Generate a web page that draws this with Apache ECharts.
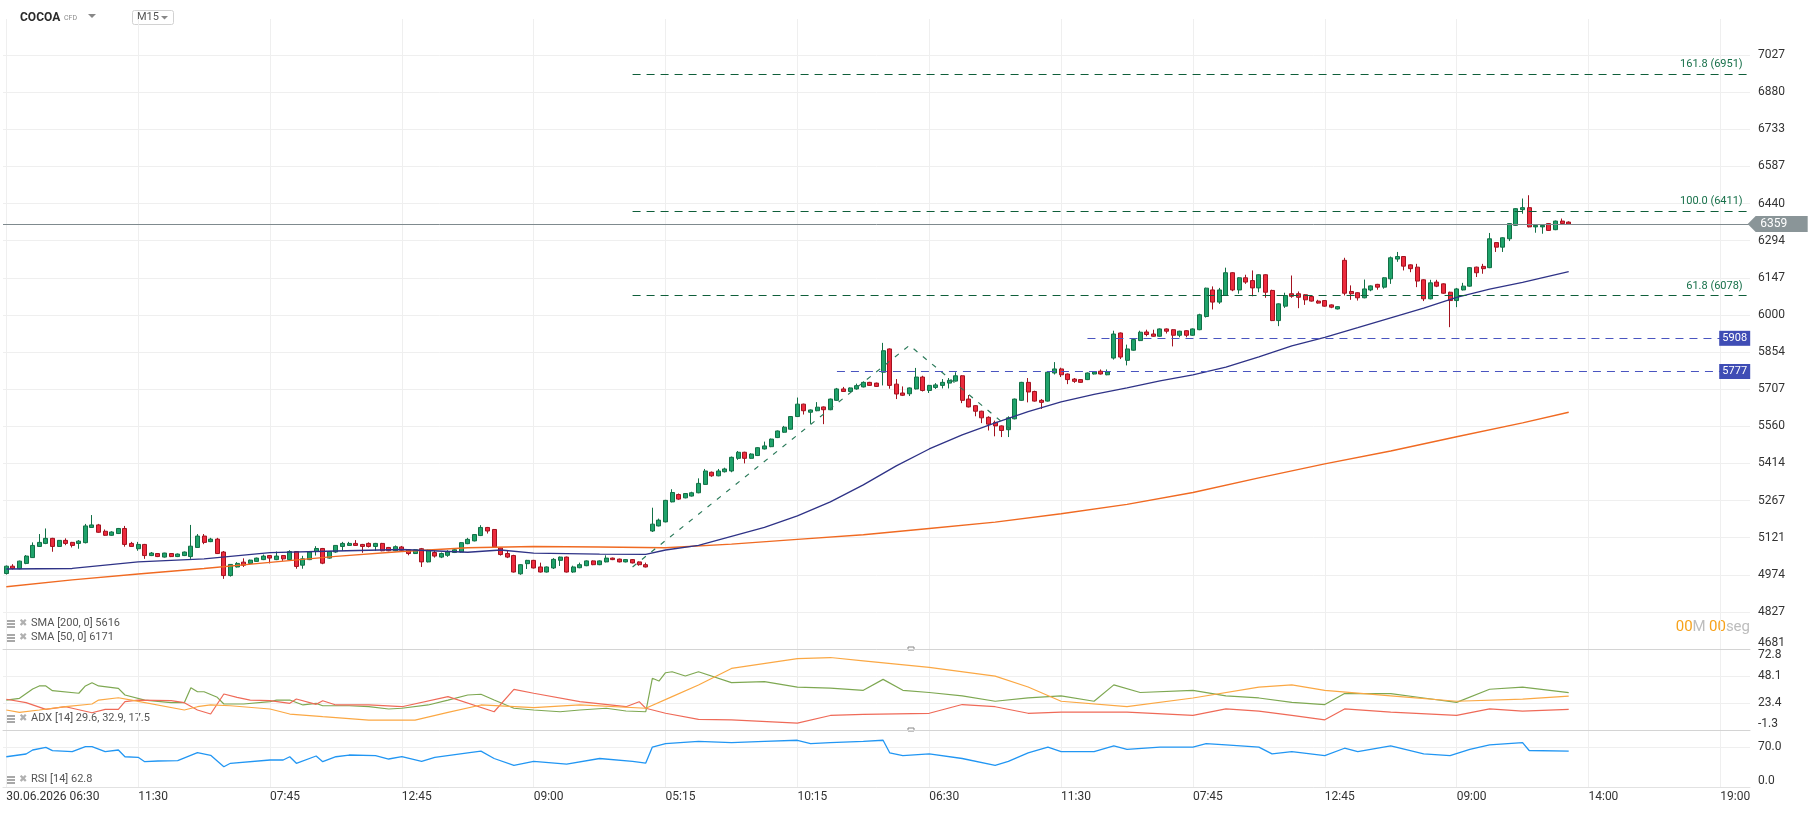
<!DOCTYPE html>
<html lang="es">
<head>
<meta charset="UTF-8">
<title>COCOA M15</title>
<script src="https://cdn.jsdelivr.net/npm/echarts@6/dist/echarts.min.js"></script>
<style>
  html, body { margin: 0; padding: 0; background: #fff; }
  #chart { width: 1818px; height: 813px; }
</style>
</head>
<body>
<div id="chart"></div>
<script>
// slots on the time axis (candles + empty space on the right)
var slotCount = 265;
// labels shown every 20 bars
var timeLabels = ['30.06.2026 06:30', '11:30', '07:45', '12:45', '09:00', '05:15', '10:15',
                  '06:30', '11:30', '07:45', '12:45', '09:00', '14:00', '19:00'];
var priceTicks = [4681, 4827, 4974, 5121, 5267, 5414, 5560, 5707, 5854, 6000,
                  6147, 6294, 6440, 6587, 6733, 6880, 7027];
var adxTicks = [-1.3, 23.4, 48.1, 72.8];
var rsiTicks = [0, 70];

// [open, high, low, close]
var candles = [
  [4979,5011,4975,5008],[5008,5016,4995,4999],[4998,5030,4996,5028],[5019,5052,5016,5048],
  [5042,5102,5041,5090],[5086,5135,5084,5102],[5098,5157,5095,5118],[5118,5120,5065,5086],
  [5086,5111,5084,5110],[5110,5118,5091,5098],[5102,5104,5082,5090],[5098,5111,5077,5107],
  [5101,5175,5098,5167],[5161,5210,5159,5171],[5171,5175,5140,5142],[5146,5153,5128,5130],
  [5130,5146,5128,5143],[5137,5159,5135,5157],[5157,5167,5085,5094],[5098,5104,5084,5086],
  [5077,5104,5069,5094],[5094,5096,5037,5050],[5050,5064,5048,5060],[5058,5060,5044,5046],
  [5044,5061,5042,5060],[5058,5060,5044,5046],[5046,5058,5044,5056],[5050,5066,5048,5064],
  [5046,5171,5037,5087],[5082,5135,5080,5127],[5127,5135,5095,5102],[5105,5120,5103,5115],
  [5115,5120,5056,5058],[5064,5068,4958,4971],[4971,5016,4967,5015],[5005,5024,5003,5019],
  [5024,5039,5005,5012],[5019,5034,5016,5032],[5027,5042,5025,5040],[5034,5054,5032,5048],
  [5050,5052,5019,5040],[5034,5066,5032,5048],[5050,5052,5029,5037],[5034,5071,5032,5066],
  [5066,5068,4998,5007],[5012,5049,4998,5037],[5034,5066,5032,5064],[5066,5087,5050,5078],
  [5078,5080,5016,5020],[5040,5066,5038,5066],[5064,5090,5061,5090],[5086,5104,5069,5098],
  [5090,5104,5088,5098],[5098,5111,5088,5090],[5094,5096,5061,5086],[5098,5102,5082,5086],
  [5086,5100,5069,5098],[5098,5100,5067,5069],[5082,5084,5067,5069],[5069,5090,5067,5085],
  [5084,5088,5069,5071],[5073,5075,5051,5058],[5058,5075,5056,5073],[5077,5080,5005,5025],
  [5025,5073,5023,5071],[5062,5071,5042,5048],[5044,5062,5040,5058],[5051,5071,5045,5064],
  [5062,5077,5060,5073],[5064,5103,5062,5101],[5097,5120,5095,5114],[5108,5135,5106,5133],
  [5129,5170,5127,5161],[5161,5163,5137,5147],[5153,5155,5080,5084],[5080,5082,5050,5054],
  [5058,5071,5040,5044],[5050,5053,4983,4985],[4978,5016,4974,5014],[5018,5033,4997,5031],
  [5031,5033,4999,5001],[5005,5022,4983,4985],[4985,5007,4983,5005],[5001,5040,4997,5035],
  [5031,5046,5009,5044],[5044,5046,4983,4985],[4985,5010,4982,5005],[5002,5022,5000,5014],
  [5010,5031,5008,5029],[5029,5031,5012,5014],[5014,5031,5012,5029],[5025,5051,5023,5040],
  [5040,5042,5032,5034],[5036,5038,5023,5025],[5025,5036,5023,5034],[5034,5036,5019,5021],
  [5025,5027,5010,5014],[5014,5022,5003,5005],[5147,5239,5143,5174],[5167,5196,5165,5190],
  [5183,5270,5181,5268],[5262,5312,5260,5299],[5291,5295,5270,5273],[5278,5297,5276,5295],
  [5285,5302,5283,5298],[5298,5355,5296,5335],[5331,5392,5329,5384],[5379,5382,5361,5365],
  [5365,5392,5363,5384],[5381,5397,5378,5392],[5384,5441,5379,5438],[5434,5463,5428,5458],
  [5458,5460,5414,5434],[5434,5454,5432,5451],[5445,5478,5443,5476],[5471,5500,5469,5483],
  [5480,5512,5478,5510],[5516,5544,5514,5542],[5537,5562,5535,5557],[5549,5601,5547,5599],
  [5599,5674,5597,5648],[5648,5650,5607,5622],[5616,5627,5570,5625],[5622,5656,5620,5636],
  [5637,5639,5569,5626],[5626,5670,5624,5668],[5663,5712,5661,5708],[5708,5716,5696,5698],
  [5698,5714,5696,5712],[5708,5729,5705,5721],[5716,5738,5714,5734],[5734,5736,5720,5722],
  [5731,5733,5716,5718],[5774,5890,5722,5859],[5866,5868,5709,5722],[5727,5747,5668,5688],
  [5692,5718,5680,5683],[5689,5714,5680,5712],[5708,5791,5706,5755],[5755,5760,5698,5702],
  [5702,5724,5692,5722],[5714,5731,5708,5724],[5722,5747,5710,5734],[5731,5751,5710,5742],
  [5739,5774,5737,5760],[5760,5762,5652,5663],[5668,5684,5635,5637],[5642,5644,5600,5620],
  [5620,5622,5573,5594],[5596,5600,5544,5569],[5576,5583,5521,5562],[5562,5564,5518,5544],
  [5547,5600,5518,5594],[5590,5670,5588,5668],[5663,5736,5661,5734],[5734,5751,5655,5696],
  [5698,5701,5658,5660],[5663,5668,5629,5655],[5660,5776,5658,5774],[5771,5814,5765,5787],
  [5787,5792,5755,5764],[5767,5769,5727,5745],[5747,5751,5732,5738],[5745,5747,5732,5734],
  [5745,5773,5743,5771],[5767,5777,5765,5775],[5778,5785,5765,5767],[5764,5785,5762,5775],
  [5830,5938,5824,5925],[5929,5931,5826,5834],[5821,5883,5801,5866],[5861,5905,5859,5903],
  [5899,5938,5897,5932],[5933,5942,5916,5923],[5925,5942,5914,5916],[5916,5947,5914,5945],
  [5945,5947,5927,5936],[5942,5944,5876,5920],[5920,5938,5912,5936],[5938,5940,5912,5920],
  [5920,5947,5918,5945],[5942,6005,5940,6001],[5994,6108,5990,6106],[6099,6113,6022,6051],
  [6051,6107,6044,6099],[6077,6187,6075,6167],[6167,6169,6094,6099],[6099,6149,6084,6147],
  [6147,6159,6123,6130],[6136,6176,6074,6107],[6107,6161,6090,6159],[6159,6161,6068,6090],
  [6097,6100,5976,5978],[5978,6046,5956,6044],[6035,6088,6028,6077],[6084,6156,6068,6074],
  [6084,6093,6027,6070],[6080,6082,6040,6060],[6073,6075,6053,6055],[6055,6060,6045,6047],
  [6057,6059,6033,6035],[6040,6042,6027,6031],[6024,6035,6022,6033],[6216,6226,6077,6086],
  [6093,6117,6060,6084],[6088,6090,6057,6068],[6068,6140,6066,6103],[6099,6117,6094,6115],
  [6121,6123,6100,6110],[6110,6149,6104,6147],[6143,6231,6123,6226],[6221,6249,6210,6231],
  [6231,6233,6176,6193],[6198,6200,6169,6183],[6189,6202,6110,6134],[6139,6141,6055,6064],
  [6064,6139,6062,6127],[6130,6139,6110,6114],[6123,6125,6084,6086],[6090,6092,5952,6057],
  [6057,6107,6031,6103],[6099,6127,6097,6114],[6114,6189,6112,6187],[6189,6191,6150,6167],
  [6192,6202,6163,6183],[6187,6324,6185,6301],[6286,6288,6249,6268],[6268,6307,6249,6305],
  [6301,6363,6292,6361],[6354,6422,6352,6420],[6416,6460,6400,6424],[6424,6473,6346,6348],
  [6348,6356,6325,6354],[6348,6356,6321,6354],[6361,6363,6332,6334],[6337,6373,6335,6371],
  [6371,6381,6359,6361],[6367,6370,6357,6359]
];

// moving averages, [bar, value]
var sma200 = [[0,4927],[10,4954],[20,4977],[30,4999],[40,5023],[50,5047],[60,5066],[70,5081],
  [80,5086],[90,5084],[100,5081],[110,5095],[120,5114],[130,5132],[140,5157],[150,5182],
  [160,5215],[170,5252],[180,5299],[190,5357],[200,5412],[210,5463],[220,5519],[230,5574],[237,5616]];
var sma50 = [[0,4997],[10,4999],[20,5025],[30,5037],[40,5062],[50,5068],[60,5074],[70,5063],
  [75,5072],[80,5060],[90,5056],[97,5055],[100,5072],[105,5090],[110,5126],[115,5161],[120,5207],
  [125,5262],[130,5329],[135,5404],[140,5471],[145,5527],[150,5574],[155,5618],[160,5657],
  [165,5687],[170,5712],[175,5740],[180,5764],[185,5794],[190,5835],[195,5878],[200,5912],
  [205,5950],[210,5989],[215,6027],[220,6070],[225,6102],[230,6129],[237,6171]];

// fibonacci swing points and levels
var swing = [[95,5005],[137,5880],[153,5535]];
var fibLevels = [['61.8', 6078], ['100.0', 6411], ['161.8', 6951]];
var levelLines = [[126, 5777], [164, 5908]];
var lastPrice = 6359;

// ADX [14]: +DI, -DI, ADX
var plusDI = [[0,26.1],[2,27.7],[4,36.2],[5,39.0],[6,39.0],[7,34.7],[11,32.3],[12,39.0],[13,42.0],
  [14,39.0],[17,36.8],[18,30.7],[21,26.1],[25,23.7],[27,23.7],[28,37.4],[29,33.7],[30,33.7],
  [32,28.6],[33,22.5],[36,22.5],[40,24.6],[41,26.1],[43,26.1],[45,21.6],[47,23.1],[48,20.9],
  [52,20.9],[55,20.0],[58,17.9],[60,18.6],[64,21.6],[67,26.1],[70,30.7],[72,31.4],[74,26.1],
  [77,18.6],[80,17.0],[84,15.4],[87,17.0],[91,18.6],[94,16.1],[97,15.4],[98,46.0],[99,43.5],
  [100,51.1],[101,52.0],[103,48.1],[105,52.0],[110,42],[115,43],[120,38],[125,37],[130,35],
  [133,45],[136,35],[140,33],[145,30],[150,25],[155,28],[160,30],[165,25],[168,40],[172,33],
  [180,35],[185,30],[190,28],[195,24],[200,22],[203,32],[210,32],[215,28],[220,24],[225,36],
  [230,38],[237,32.9]];
var minusDI = [[0,26.8],[3,23.7],[6,17.6],[9,20.0],[13,14.5],[15,17.6],[17,17.6],[18,24.6],
  [20,26.1],[25,25.5],[27,23.7],[29,17.0],[31,13.3],[33,31.6],[35,28.6],[37,26.1],[40,25.5],
  [43,23.1],[44,27.1],[47,22.2],[48,25.5],[50,21.6],[55,21.6],[60,20.0],[67,29.2],[74,15.4],
  [77,35.9],[80,32.3],[87,24.6],[94,20.0],[96,24.6],[97,18.6],[100,14.0],[105,8.5],[110,8],
  [120,5],[125,12],[130,13],[140,14],[145,22],[150,20],[155,14],[160,15],[170,15],[180,12],
  [185,18],[190,16],[195,12],[200,8],[203,18],[210,15],[220,12],[225,18],[230,16],[237,17.5]];
var adx = [[0,17.0],[2,14.9],[5,17.0],[9,20.0],[13,22.5],[14,26.1],[17,28.2],[19,26.1],[27,17.0],
  [29,20.0],[31,21.6],[34,20.9],[40,17.9],[43,13.3],[48,10.9],[55,7.8],[62,7.8],[67,14.9],
  [72,21.6],[80,19.1],[87,21.6],[97,18.6],[101,29.2],[105,39.9],[110,55],[120,64],[125,65],
  [130,62],[140,56],[150,48],[155,38],[160,25],[170,20],[180,28],[190,38],[195,40],[200,35],
  [210,30],[220,25],[230,27],[237,29.6]];
// RSI [14]
var rsi = [[0,53.1],[3,57.9],[4,64.9],[6,69.6],[7,63.7],[10,61.9],[12,70.7],[13,70.7],[15,61.9],
  [17,64.9],[18,53.1],[20,52.1],[21,44.4],[23,45.6],[26,46.1],[29,60.2],[31,55.6],[33,35.6],
  [34,41.6],[40,47.4],[42,47.4],[43,53.1],[44,41.6],[47,54.4],[48,44.4],[50,53.1],[52,56.1],
  [56,54.9],[58,49.1],[60,53.1],[63,45],[65,52],[70,60],[72,63],[74,50],[77,38],[80,45],[85,40],
  [90,50],[95,45],[97,42],[98,70],[100,76],[105,80],[110,78],[115,80],[120,82],[122,76],[125,78],
  [130,80],[133,82],[134,60],[136,55],[140,58],[145,50],[150,38],[152,45],[155,60],[158,70],
  [160,62],[165,62],[168,72],[170,66],[175,70],[180,70],[182,76],[185,74],[190,70],[192,58],
  [195,62],[200,55],[203,68],[205,62],[210,72],[215,58],[219,55],[222,66],[225,74],[230,78],
  [231,64],[237,62.8]];

var lastSlot = slotCount - 1;
var cats = [];
for (var i = 0; i < slotCount; i++) cats.push(String(i));

var font = 'Roboto, "Noto Sans", sans-serif';
var gridColor = '#efefef';

function xAxisFor(idx, showLabels, lineColor) {
    return {
        type: 'category', gridIndex: idx, data: cats, boundaryGap: true,
        axisLine: { show: true, onZero: false, lineStyle: { color: lineColor, width: 1 } },
        axisTick: { show: false },
        axisLabel: {
            show: showLabels,
            interval: function (i) { return i % 20 === 0; },
            formatter: function (v, i) { return timeLabels[i / 20]; },
            align: 'left', margin: 4, color: '#333', fontSize: 12, fontFamily: font
        },
        splitLine: {
            show: true, alignWithLabel: true,
            interval: function (i) { return i % 20 === 0; },
            lineStyle: { color: gridColor, width: 1 }
        }
    };
}

function yAxisFor(idx, min, max, ticks, fmt, extra) {
    var label = {
        customValues: ticks, formatter: fmt, color: '#333', fontSize: 12,
        fontFamily: font, margin: 8
    };
    for (var k in extra) label[k] = extra[k];
    return {
        type: 'value', gridIndex: idx, position: 'right', min: min, max: max,
        axisLine: { show: false },
        axisTick: { show: false, customValues: ticks },
        axisLabel: label,
        splitLine: { show: true, lineStyle: { color: gridColor, width: 1 } }
    };
}

var fibLines = fibLevels.map(function (f) {
    return [{
        coord: [swing[0][0], f[1]],
        lineStyle: { color: '#0f5e3a', type: [8, 6], width: 1.2 },
        label: {
            show: true, position: 'insideEndTop', distance: 4,
            formatter: f[0] + ' (' + f[1] + ')',
            color: '#17704a', fontSize: 11, fontFamily: font
        }
    }, { coord: [lastSlot, f[1]] }];
});
var blueLines = levelLines.map(function (l) {
    return [{
        coord: [l[0], l[1]],
        lineStyle: { color: '#4a55c0', type: [8, 6], width: 1 },
        label: { show: false }
    }, { coord: [lastSlot, l[1]] }];
});

// small caption row: handle icon, close cross, text
function caption(top, text) {
    return [
        { type: 'rect', shape: { x: 6, y: top + 1, width: 9, height: 2 }, style: { fill: '#a8a8a8' } },
        { type: 'rect', shape: { x: 6, y: top + 4, width: 9, height: 2 }, style: { fill: '#a8a8a8' } },
        { type: 'rect', shape: { x: 6, y: top + 7, width: 9, height: 2 }, style: { fill: '#a8a8a8' } },
        { type: 'text', left: 19, top: top - 1, style: { text: '✖', fill: '#b0b0b0', font: 'bold 10px "DejaVu Sans"' } },
        { type: 'text', left: 31, top: top - 1, style: { text: text, fill: '#555', font: '11px ' + font } }
    ];
}

var chart = echarts.init(document.getElementById('chart'));
var option = {
    animation: false,
    backgroundColor: '#fff',
    grid: [
        { left: 3, right: 68, top: 19, height: 630 },
        { left: 3, right: 68, top: 649, height: 81 },
        { left: 3, right: 68, top: 730, height: 57 }
    ],
    xAxis: [
        xAxisFor(0, false, '#d4d4d4'),
        xAxisFor(1, false, '#d4d4d4'),
        xAxisFor(2, true, '#e2e2e2')
    ],
    yAxis: [
        yAxisFor(0, 4681, 7169, priceTicks, function (v) { return String(Math.round(v)); },
                 { verticalAlignMinLabel: 'bottom' }),
        yAxisFor(1, -1.3, 72.8, adxTicks, function (v) { return v.toFixed(1); },
                 { verticalAlignMinLabel: 'bottom', verticalAlignMaxLabel: 'top' }),
        yAxisFor(2, 0, 100, rsiTicks, function (v) { return v.toFixed(1); },
                 { verticalAlignMinLabel: 'bottom' })
    ],
    series: [
        {
            name: 'COCOA', type: 'candlestick', xAxisIndex: 0, yAxisIndex: 0,
            barWidth: 4.5,
            data: candles.map(function (c) { return [c[0], c[3], c[2], c[1]]; }),
            itemStyle: {
                color: '#1fa36b', color0: '#ec2b3d',
                borderColor: '#127046', borderColor0: '#a3121f', borderWidth: 1
            },
            markLine: {
                silent: true, symbol: 'none', animation: false,
                data: [
                    { yAxis: lastPrice, lineStyle: { color: '#7f8a8e', type: 'solid', width: 1 },
                      label: { show: false } }
                ].concat(fibLines, blueLines)
            },
            markPoint: {
                silent: true, animation: false,
                data: [
                    {
                        coord: [lastSlot, lastPrice], value: lastPrice,
                        symbol: 'path://M0,8 L8,0 L60,0 L60,16 L8,16 Z',
                        symbolSize: [60, 16], symbolOffset: [31, 0], symbolKeepAspect: false,
                        itemStyle: { color: '#8a9598' },
                        label: { show: true, formatter: '{c}', color: '#fff', fontSize: 12,
                                 fontFamily: font, offset: [-4, 0] }
                    }
                ].concat(levelLines.map(function (l) {
                    return {
                        coord: [lastSlot, l[1]], value: l[1],
                        symbol: 'rect', symbolSize: [31, 15], symbolOffset: [-12, 0],
                        itemStyle: { color: '#3f4db5' },
                        label: { show: true, formatter: '{c}', color: '#fff', fontSize: 11,
                                 fontFamily: font }
                    };
                }))
            }
        },
        {
            name: 'SMA200', type: 'line', xAxisIndex: 0, yAxisIndex: 0, data: sma200,
            showSymbol: false, silent: true,
            lineStyle: { color: '#f06a22', width: 1.4 }
        },
        {
            name: 'SMA50', type: 'line', xAxisIndex: 0, yAxisIndex: 0, data: sma50,
            showSymbol: false, silent: true,
            lineStyle: { color: '#2f3387', width: 1.3 }
        },
        {
            name: 'swing', type: 'line', xAxisIndex: 0, yAxisIndex: 0, data: swing,
            showSymbol: false, silent: true,
            lineStyle: { color: '#2b7a5a', width: 1.2, type: [5, 7] }
        },
        {
            name: '+DI', type: 'line', xAxisIndex: 1, yAxisIndex: 1, data: plusDI,
            showSymbol: false, silent: true, lineStyle: { color: '#7ea852', width: 1.2 }
        },
        {
            name: '-DI', type: 'line', xAxisIndex: 1, yAxisIndex: 1, data: minusDI,
            showSymbol: false, silent: true, lineStyle: { color: '#ef6a58', width: 1.2 }
        },
        {
            name: 'ADX', type: 'line', xAxisIndex: 1, yAxisIndex: 1, data: adx,
            showSymbol: false, silent: true, lineStyle: { color: '#fba844', width: 1.2 }
        },
        {
            name: 'RSI', type: 'line', xAxisIndex: 2, yAxisIndex: 2, data: rsi,
            showSymbol: false, silent: true, lineStyle: { color: '#2196f3', width: 1.3 }
        }
    ],
    graphic: [
        // header
        { type: 'text', left: 20, top: 12, style: { text: 'COCOA', fill: '#2a2a2a', font: 'bold 12px ' + font } },
        { type: 'text', left: 64, top: 15, style: { text: 'CFD', fill: '#8a8a8a', font: '7px ' + font } },
        { type: 'polygon', shape: { points: [[88, 14], [96, 14], [92, 18]] }, style: { fill: '#888' } },
        { type: 'rect', shape: { x: 132.5, y: 10.5, width: 41, height: 14, r: 2 },
          style: { fill: '#fff', stroke: '#d2d2d2', lineWidth: 1 } },
        { type: 'text', left: 137, top: 12, style: { text: 'M15', fill: '#555', font: '11px ' + font } },
        { type: 'polygon', shape: { points: [[161, 16], [168, 16], [164.5, 19.5]] }, style: { fill: '#888' } },
        // countdown
        { type: 'text', right: 68, top: 620, style: {
            text: '{o|00}{g|M} {o|00}{g|seg}',
            rich: { o: { fill: '#f7a21b', font: '15px ' + font }, g: { fill: '#bdbdbd', font: '15px ' + font } }
        } },
        // panel grips
        { type: 'rect', shape: { x: 908, y: 647, width: 6, height: 3 }, style: { fill: '#fff', stroke: '#888', lineWidth: 1 } },
        { type: 'rect', shape: { x: 908, y: 728, width: 6, height: 3 }, style: { fill: '#fff', stroke: '#888', lineWidth: 1 } }
    ].concat(
        caption(619, 'SMA [200, 0] 5616'),
        caption(633, 'SMA [50, 0] 6171'),
        caption(714, 'ADX [14] 29.6, 32.9, 17.5'),
        caption(775, 'RSI [14] 62.8')
    )
};
chart.setOption(option);
</script>
</body>
</html>
